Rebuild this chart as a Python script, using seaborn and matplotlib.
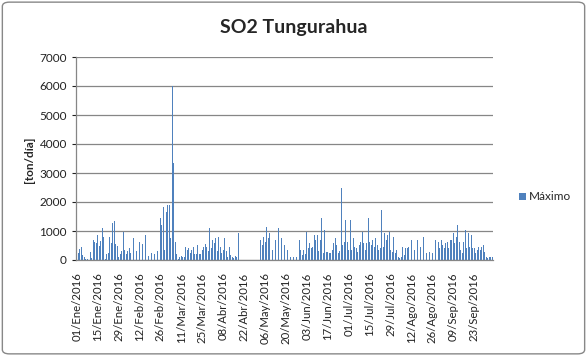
import numpy as np
import pandas as pd
import matplotlib.pyplot as plt
from matplotlib.patches import FancyBboxPatch
import seaborn as sns

# daily SO2 maxima (ton/dia), 01/Ene/2016 .. 05/Oct/2016
maximo = [
    830, 250, 380, 440, 180, 120, 50, 20, 0, 290,
    60, 690, 630, 600, 860, 480, 650, 1090, 800, 50,
    200, 250, 800, 600, 1260, 1360, 550, 500, 100, 200,
    300, 980, 350, 200, 300, 400, 250, 920, 750, 520,
    300, 570, 630, 300, 550, 200, 860, 400, 150, 200,
    250, 400, 200, 350, 300, 1550, 1440, 1210, 1840, 350,
    1650, 1900, 1880, 750, 6000, 3350, 630, 200, 50, 100,
    150, 100, 100, 450, 350, 400, 250, 350, 450, 200,
    200, 520, 200, 200, 350, 450, 550, 450, 300, 1090,
    400, 700, 580, 750, 300, 800, 450, 230, 350, 750,
    300, 120, 450, 170, 120, 60, 150, 100, 920, 0,
    0, 0, 0, 0, 0, 0, 0, 0, 0, 0,
    0, 0, 0, 690, 520, 800, 630, 1150, 750, 920,
    520, 350, 460, 700, 860, 1090, 980, 750, 1290, 520,
    920, 350, 230, 120, 60, 120, 400, 120, 350, 690,
    350, 170, 350, 200, 980, 400, 580, 400, 460, 860,
    700, 860, 300, 700, 1440, 230, 1030, 290, 290, 230,
    230, 350, 580, 750, 520, 230, 300, 2470, 520, 630,
    1380, 630, 350, 1380, 350, 750, 460, 400, 290, 520,
    630, 980, 580, 350, 600, 1440, 630, 520, 700, 460,
    750, 520, 350, 400, 1720, 460, 920, 700, 860, 980,
    350, 290, 800, 230, 350, 120, 60, 120, 460, 170,
    400, 400, 460, 350, 700, 520, 350, 500, 700, 1030,
    460, 630, 800, 460, 230, 460, 290, 520, 230, 630,
    700, 460, 630, 400, 700, 520, 400, 580, 630, 400,
    700, 700, 920, 600, 800, 1210, 630, 350, 230, 630,
    1030, 400, 920, 460, 860, 400, 400, 230, 350, 460,
    350, 460, 520, 290, 120, 60, 120, 100, 120,
]
meses = ['Ene', 'Feb', 'Mar', 'Abr', 'May', 'Jun', 'Jul', 'Ago', 'Sep', 'Oct', 'Nov', 'Dic']
fechas = pd.date_range('2016-01-01', periods=len(maximo), freq='D')
etiquetas = [f"{d.day:02d}/{meses[d.month - 1]}/{d.year}" for d in fechas]

df = pd.DataFrame({'fecha': etiquetas, 'valor': maximo})

sns.set_style('white')
plt.rcParams['font.family'] = ['Lato', 'DejaVu Sans']

fig = plt.figure(figsize=(5.87, 3.56), dpi=100)
ax = fig.add_axes([76/587, 96/356, 417/587, 203/356])

azul = '#4F81BD'
sns.barplot(data=df, x='fecha', y='valor', color=azul, width=0.6,
            saturation=1, ax=ax, label='Máximo', linewidth=0, edgecolor='none')

ax.set_ylim(0, 7000)
ax.set_yticks(range(0, 7001, 1000))
ax.set_xlim(-0.5, len(maximo) - 0.5)
ax.set_xticks(range(0, len(maximo), 14))
ax.set_xticklabels(etiquetas[::14], rotation=90, fontsize=8.2, color='#222222')
ax.tick_params(axis='y', labelsize=8.5, colors='#222222', length=3, left=True, width=0.8)
ax.tick_params(axis='x', length=0, pad=9)
ax.yaxis.grid(True, color='#868686', linewidth=0.9)
ax.set_axisbelow(True)
ax.set_xlabel('')
ax.set_ylabel('')
for s in ['top', 'right']:
    ax.spines[s].set_visible(False)
for s in ['left', 'bottom']:
    ax.spines[s].set_color('#868686')
    ax.spines[s].set_linewidth(0.9)

# Decorations
fig.text(294/587, 1 - 27/356, 'SO2 Tungurahua', ha='center', va='center',
         fontsize=14, fontweight='bold')
fig.text(30/587, 1 - 160/356, '[ton/día]', ha='center', va='center',
         rotation=90, fontsize=8.5, fontweight='bold')
ax.legend(loc='center left', bbox_to_anchor=(508/587, 1 - 197/356),
          bbox_transform=fig.transFigure, frameon=False, fontsize=8.5,
          handlelength=0.6, handleheight=0.6, handletextpad=0.3)

borde = FancyBboxPatch((0.004, 0.006), 0.992, 0.988, boxstyle='round,pad=0,rounding_size=0.012',
                       transform=fig.transFigure, fill=False, edgecolor='#888888', linewidth=1)
fig.patches.append(borde)

plt.savefig('out.png', dpi=100)
